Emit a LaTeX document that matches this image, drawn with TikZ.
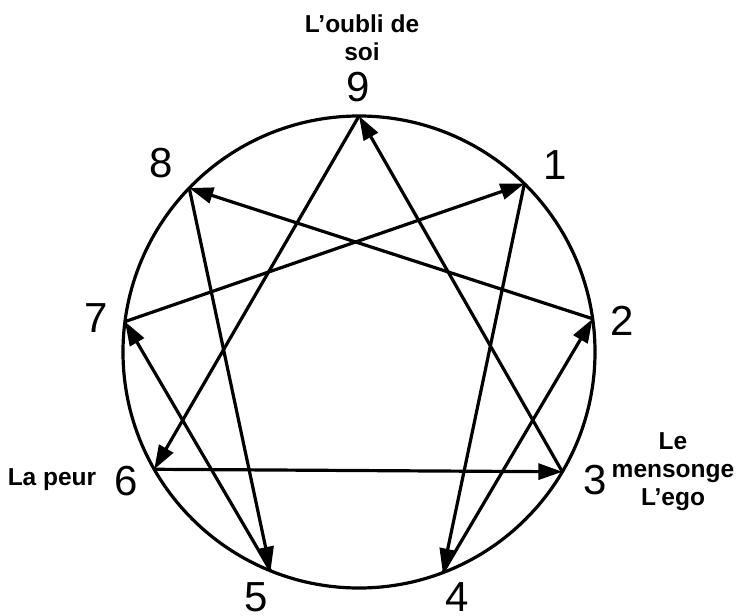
\documentclass[tikz,border=0pt]{standalone}
\usepackage{fontspec}
\setmainfont{Liberation Sans}
\usetikzlibrary{arrows.meta,calc}
\begin{document}
\begin{tikzpicture}[x=1pt,y=-1pt,
  ring/.style={line width=3.2pt},
  edge/.style={line width=3.2pt, -{Triangle[length=24pt,width=16pt]}},
  num/.style={font=\fontsize{42}{42}\selectfont, inner sep=0pt},
  lbl/.style={font=\bfseries\fontsize{24.5}{28}\selectfont, align=center, inner sep=0pt}]
\useasboundingbox (0,0) rectangle (738,615);
\coordinate (c) at (359,352);
\draw[ring] (c) circle (236pt);
\coordinate (p9) at ($(c)+(90:236pt)$);
\coordinate (p1) at ($(c)+(45.5:236pt)$);
\coordinate (p2) at ($(c)+(8.1:236pt)$);
\coordinate (p3) at ($(c)+(-30.5:236pt)$);
\coordinate (p4) at ($(c)+(-69.2:236pt)$);
\coordinate (p5) at ($(c)+(-112:236pt)$);
\coordinate (p6) at ($(c)+(-150.2:236pt)$);
\coordinate (p7) at ($(c)+(172.6:236pt)$);
\coordinate (p8) at ($(c)+(136:236pt)$);
\draw[edge] (p9) -- (p6);
\draw[edge] (p6) -- (p3);
\draw[edge] (p3) -- (p9);
\draw[edge] (p1) -- (p4);
\draw[edge] (p4) -- (p2);
\draw[edge] (p2) -- (p8);
\draw[edge] (p8) -- (p5);
\draw[edge] (p5) -- (p7);
\draw[edge] (p7) -- (p1);
\node[num] (n9) at (358,87) {9};
\node[num] (n1) at (555,165) {1};
\node[num] (n2) at (622,321) {2};
\node[num] (n3) at (595,480) {3};
\node[num] (n4) at (457,597) {4};
\node[num] (n5) at (256,597) {5};
\node[num] (n6) at (126,481) {6};
\node[num] (n7) at (96,318) {7};
\node[num] (n8) at (161,163) {8};
\node[lbl, anchor=north] (t9) at (362,15) {L’oubli de\\soi};
\node[lbl, anchor=base] (t6) at (52,485) {La peur};
\node[lbl, anchor=north] (t3) at (673,432) {Le\\mensonge\\L’ego};
\end{tikzpicture}
\end{document}
